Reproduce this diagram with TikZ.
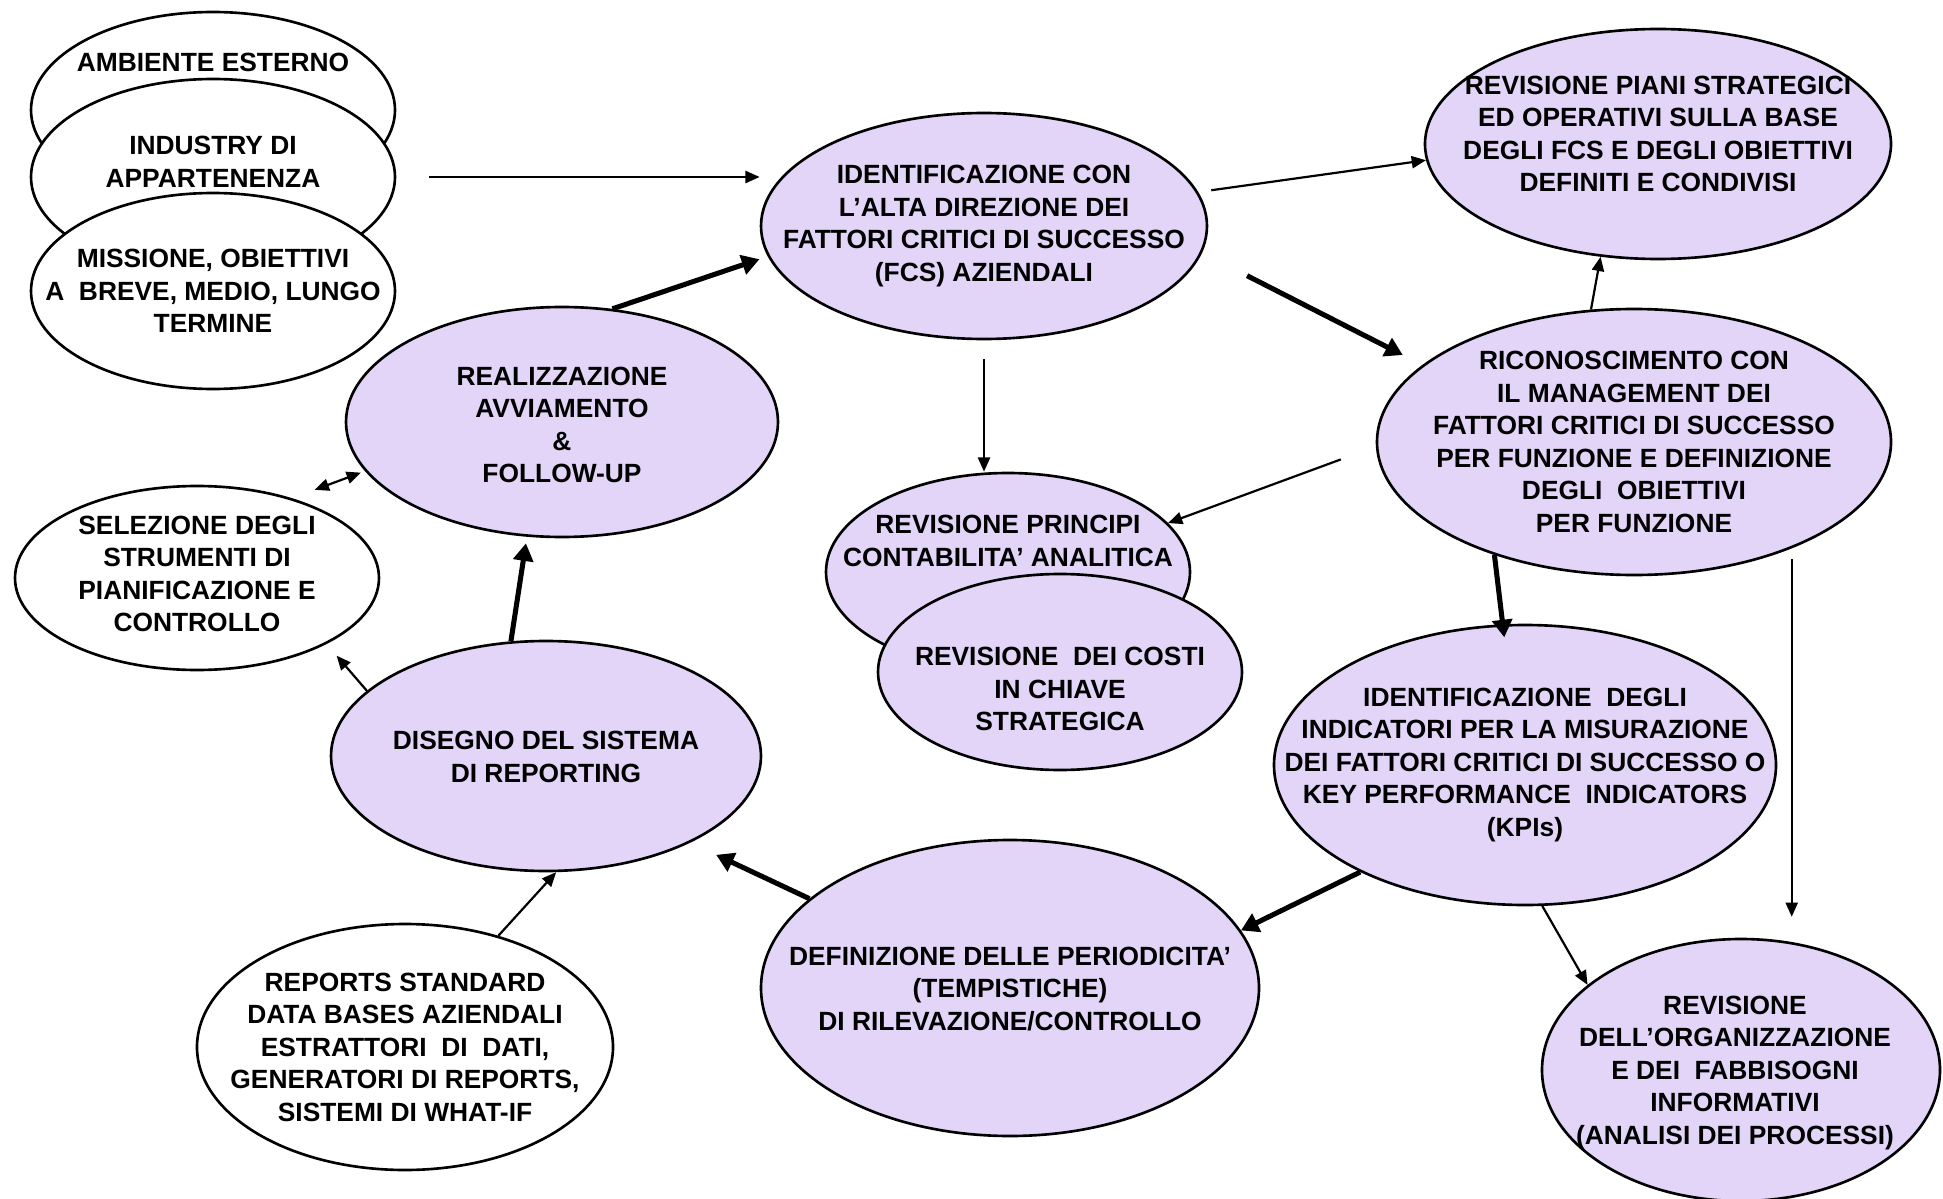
\documentclass[tikz,border=0pt]{standalone}
\usepackage{fontspec}
\setmainfont{Liberation Sans}
\usetikzlibrary{shapes.geometric}
\usetikzlibrary{arrows.meta}
\definecolor{lilla}{RGB}{227,213,247}
\tikzset{
    bolla/.style={ellipse, draw=black, line width=1.2pt, fill=white, inner sep=0pt},
    viola/.style={bolla, fill=lilla},
    testo/.style={align=center, inner sep=0pt, font=\bfseries\fontsize{12}{14.8}\selectfont},
    freccia/.style={-{Triangle[length=6.5pt,width=5.5pt]}, line width=1pt},
    grossa/.style={-{Triangle[length=8pt,width=9pt]}, line width=2.3pt},
    doppia/.style={{Triangle[length=6.5pt,width=5.5pt]}-{Triangle[length=6.5pt,width=5.5pt]}, line width=1pt}
}

\begin{document}
\begin{tikzpicture}[x=0.16mm, y=-0.16mm]
    \useasboundingbox (0, 0) rectangle (1943, 1199);

    % contesto
    \node[bolla, minimum width=58.24mm, minimum height=31.36mm] (amb) at (213, 110) {};
    \node[testo] (amb-t) at (213, 62) {AMBIENTE ESTERNO};
    \node[bolla, minimum width=58.24mm, minimum height=31.36mm] (ind) at (213, 177) {};
    \node[testo] (ind-t) at (213, 162) {INDUSTRY DI\\APPARTENENZA};
    \node[bolla, minimum width=58.24mm, minimum height=31.36mm] (mis) at (213, 291) {};
    \node[testo] (mis-t) at (213, 291) {MISSIONE, OBIETTIVI\\A\ \ BREVE, MEDIO, LUNGO\\TERMINE};

    % fcs
    \node[viola, minimum width=71.36mm, minimum height=36.16mm] (fcs) at (984, 226) {};
    \node[testo] (fcs-t) at (984, 226) {IDENTIFICAZIONE CON\\L’ALTA DIREZIONE DEI\\FATTORI CRITICI DI SUCCESSO\\(FCS) AZIENDALI};
    \node[viola, minimum width=74.56mm, minimum height=36.8mm] (piani) at (1658, 144) {};
    \node[testo] (piani-t) at (1658, 134) {REVISIONE PIANI STRATEGICI\\ED OPERATIVI SULLA BASE\\DEGLI FCS E DEGLI OBIETTIVI\\DEFINITI E CONDIVISI};
    \node[viola, minimum width=82.24mm, minimum height=42.56mm] (ricon) at (1634, 442) {};
    \node[testo] (ricon-t) at (1634, 442) {RICONOSCIMENTO CON\\IL MANAGEMENT DEI\\FATTORI CRITICI DI SUCCESSO\\PER FUNZIONE E DEFINIZIONE\\DEGLI\ \ OBIETTIVI\\PER FUNZIONE};

    % contabilita'
    \node[viola, minimum width=58.24mm, minimum height=31.68mm] (principi) at (1008, 572) {};
    \node[testo] (principi-t) at (1008, 541) {REVISIONE PRINCIPI\\CONTABILITA’ ANALITICA};
    \node[viola, minimum width=58.24mm, minimum height=31.36mm] (costi) at (1060, 672) {};
    \node[testo] (costi-t) at (1060, 689) {REVISIONE\ \ DEI COSTI\\IN CHIAVE\\STRATEGICA};

    % kpi
    \node[viola, minimum width=80.32mm, minimum height=44.8mm] (kpi) at (1525, 765) {};
    \node[testo] (kpi-t) at (1525, 765) {IDENTIFICAZIONE\ \ DEGLI\\INDICATORI PER LA MISURAZIONE\\DEI FATTORI CRITICI DI SUCCESSO O\\KEY PERFORMANCE\ \ INDICATORS\\(KPIs)};
    \node[viola, minimum width=63.68mm, minimum height=41.92mm] (org) at (1741, 1070) {};
    \node[testo] (org-t) at (1735, 1073) {REVISIONE\\DELL’ORGANIZZAZIONE\\E DEI\ \ FABBISOGNI\\INFORMATIVI\\(ANALISI DEI PROCESSI)};
    \node[viola, minimum width=79.68mm, minimum height=47.36mm] (per) at (1010, 988) {};
    \node[testo] (per-t) at (1010, 989) {DEFINIZIONE DELLE PERIODICITA’\\(TEMPISTICHE)\\DI RILEVAZIONE/CONTROLLO};

    % reporting
    \node[viola, minimum width=68.8mm, minimum height=36.8mm] (dis) at (546, 756) {};
    \node[testo] (dis-t) at (546, 757) {DISEGNO DEL SISTEMA\\DI REPORTING};
    \node[bolla, minimum width=66.56mm, minimum height=39.36mm] (rep) at (405, 1047) {};
    \node[testo] (rep-t) at (405, 1047) {REPORTS STANDARD\\DATA BASES AZIENDALI\\ESTRATTORI\ \ DI\ \ DATI,\\GENERATORI DI REPORTS,\\SISTEMI DI WHAT-IF};
    \node[viola, minimum width=69.12mm, minimum height=36.8mm] (realiz) at (562, 422) {};
    \node[testo] (realiz-t) at (562, 425) {REALIZZAZIONE\\AVVIAMENTO\\\&\\FOLLOW-UP};
    \node[bolla, minimum width=58.24mm, minimum height=29.44mm] (sel) at (197, 578) {};
    \node[testo] (sel-t) at (197, 574) {SELEZIONE DEGLI\\STRUMENTI DI\\PIANIFICAZIONE E\\CONTROLLO};

    % frecce
    \draw[freccia, shorten <=15pt] (ind.east) -- (ind.east -| fcs.west);
    \draw[grossa, shorten >=4pt] (realiz.66) -- (fcs.188);
    \draw[freccia, shorten <=6pt] (fcs.9) -- (piani.184);
    \draw[grossa, shorten <=23pt, shorten >=10pt] (fcs.-7) -- (ricon.160);
    \draw[freccia, shorten <=8.5pt] (fcs.south) -- (fcs.south |- principi.north);
    \draw[freccia, shorten <=17pt] (ricon.181) -- (principi.17);
    \draw[freccia] (ricon.108) -- (piani.243);
    \draw[grossa, shorten >=-6pt] (ricon.219) -- (kpi.99);
    \draw[freccia, shorten <=5pt, shorten >=9.5pt] (ricon.-34) -- (ricon.-34 |- org.north);
    \draw[grossa] (kpi.213) -- (per.14);
    \draw[freccia] (kpi.-83) -- (org.151);
    \draw[grossa, shorten >=13pt] (per.156) -- (dis.-31);
    \draw[grossa, shorten >=3pt] (dis.107) -- (realiz.253);
    \draw[freccia, shorten >=7pt] (dis.160) -- (sel.-27);
    \draw[doppia, shorten <=11pt, shorten >=2pt] (sel.40) -- (realiz.194);
    \draw[freccia] (rep.50) -- (dis.-85);
\end{tikzpicture}
\end{document}
